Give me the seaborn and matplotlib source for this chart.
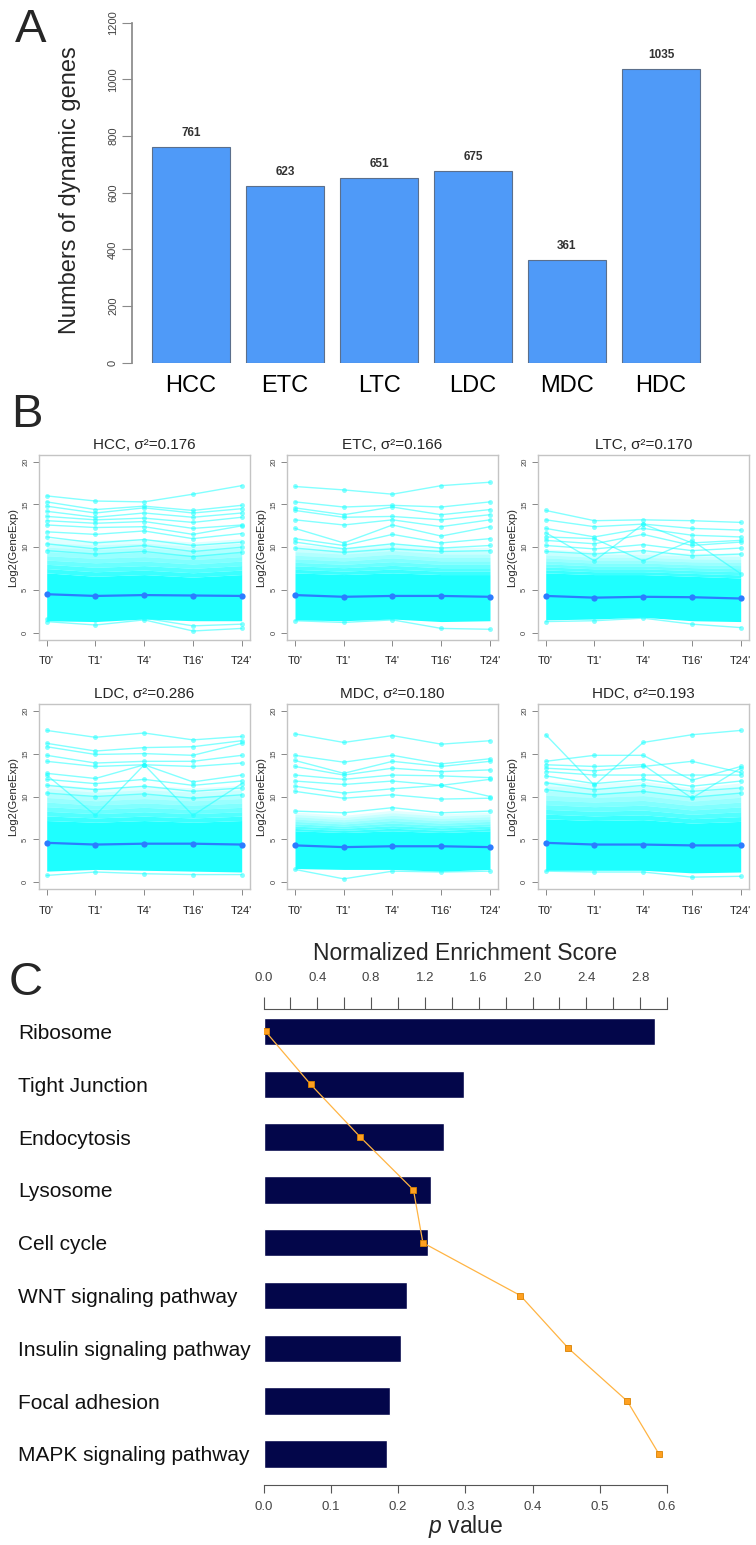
import matplotlib
matplotlib.use("Agg")
import numpy as np
import pandas as pd
import matplotlib.pyplot as plt
from matplotlib.ticker import FixedLocator
import seaborn as sns

sns.set_theme(style="white")
plt.rcParams['font.family'] = ['Liberation Sans', 'DejaVu Sans']
plt.rcParams['mathtext.fontset'] = 'custom'
plt.rcParams['mathtext.it'] = 'Liberation Sans:italic'
plt.rcParams['mathtext.rm'] = 'Liberation Sans'

# ---------------- Panel A: number of dynamic genes per condition ----------------
groups = ["HCC", "ETC", "LTC", "LDC", "MDC", "HDC"]
dynamic_genes = [761, 623, 651, 675, 361, 1035]

# ---------------- Panel B: expression trajectories ----------------
time_labels = ["T0'", "T1'", "T4'", "T16'", "T24'"]
sigma2 = [0.176, 0.166, 0.170, 0.286, 0.180, 0.193]

hcc_mean = [4.5, 4.3, 4.4, 4.35, 4.3]
hcc_low = [1.4, 1.3, 1.6, 1.4, 1.4]
hcc_core = [7.0, 6.6, 6.8, 6.5, 6.8]
hcc_fringe = [11.0, 10.8, 11.0, 10.6, 11.0]
hcc_genes = [
    [16.0, 15.4, 15.3, 16.2, 17.2], [15.3, 14.4, 14.8, 14.3, 14.9],
    [14.8, 14.0, 14.6, 14.0, 14.5], [14.2, 13.5, 14.0, 13.5, 14.0],
    [13.6, 13.2, 13.4, 12.9, 13.5], [13.1, 12.8, 13.0, 12.2, 12.6],
    [12.6, 12.3, 12.4, 11.5, 12.5], [11.8, 11.5, 11.9, 11.0, 11.6],
    [11.2, 10.5, 10.9, 10.2, 10.6], [10.4, 9.8, 10.2, 9.5, 10.0],
    [9.6, 9.2, 9.5, 8.9, 9.4], [1.3, 0.9, 1.5, 0.2, 0.5],
    [1.6, 1.5, 1.7, 0.8, 1.0],
]

etc_mean = [4.4, 4.2, 4.3, 4.3, 4.2]
etc_low = [1.5, 1.4, 1.6, 1.3, 1.4]
etc_core = [7.0, 6.8, 7.0, 6.8, 6.8]
etc_fringe = [10.3, 10.0, 10.5, 10.0, 10.0]
etc_genes = [
    [17.1, 16.7, 16.2, 17.2, 17.6], [15.3, 14.7, 14.9, 14.7, 15.3],
    [14.6, 13.8, 14.7, 13.8, 14.4], [14.3, 13.5, 13.6, 13.2, 13.8],
    [13.2, 12.6, 13.2, 12.4, 13.2], [12.2, 10.5, 12.6, 11.3, 12.4],
    [11.0, 10.2, 11.5, 10.5, 11.0], [10.6, 9.8, 10.4, 9.9, 10.2],
    [9.9, 9.4, 9.8, 9.5, 9.6], [1.4, 1.2, 1.5, 0.5, 0.4],
]

ltc_mean = [4.3, 4.1, 4.2, 4.15, 4.0]
ltc_low = [1.5, 1.6, 1.8, 1.4, 1.3]
ltc_core = [7.0, 6.8, 6.8, 6.6, 6.4]
ltc_fringe = [9.8, 9.5, 9.5, 9.3, 9.3]
ltc_genes = [
    [14.3, 13.1, 13.2, 13.1, 12.9], [13.2, 12.4, 12.7, 12.2, 12.0],
    [12.2, 11.2, 12.2, 11.4, 11.2], [11.7, 8.4, 12.7, 10.5, 10.8],
    [11.2, 11.0, 8.4, 10.8, 6.9], [10.8, 10.4, 11.5, 10.2, 10.6],
    [10.2, 9.8, 10.3, 9.6, 9.9], [9.5, 9.2, 9.6, 9.0, 9.2],
    [1.3, 1.4, 1.7, 1.0, 0.6],
]

ldc_mean = [4.6, 4.4, 4.5, 4.5, 4.4]
ldc_low = [1.3, 1.5, 1.4, 1.3, 1.2]
ldc_core = [7.2, 7.0, 7.2, 7.0, 7.2]
ldc_fringe = [11.5, 11.0, 11.3, 11.0, 11.3]
ldc_genes = [
    [17.7, 16.9, 17.4, 16.6, 17.0], [16.2, 15.3, 15.7, 15.8, 16.5],
    [15.8, 14.9, 15.0, 14.8, 16.2], [14.8, 13.9, 14.1, 14.1, 14.8],
    [14.1, 13.5, 13.7, 13.5, 13.9], [12.7, 12.1, 13.7, 11.7, 12.5],
    [12.5, 7.8, 13.7, 7.8, 11.5], [12.0, 11.5, 12.0, 11.3, 11.8],
    [11.3, 10.8, 11.2, 10.6, 11.0], [10.4, 10.0, 10.3, 9.8, 10.2],
    [0.8, 1.2, 1.0, 0.9, 0.9],
]

mdc_mean = [4.3, 4.1, 4.2, 4.2, 4.1]
mdc_low = [1.6, 1.5, 1.5, 1.3, 1.5]
mdc_core = [6.0, 5.8, 6.0, 5.8, 6.0]
mdc_fringe = [8.2, 7.8, 8.4, 8.0, 8.2]
mdc_genes = [
    [17.3, 16.3, 17.1, 16.1, 16.5], [14.8, 14.0, 14.8, 13.8, 14.4],
    [14.2, 12.7, 14.1, 13.5, 14.1], [13.5, 12.5, 13.3, 12.9, 13.1],
    [12.5, 12.0, 12.5, 12.4, 12.2], [11.8, 11.4, 11.8, 11.3, 12.0],
    [11.2, 10.4, 10.9, 11.3, 10.0], [10.6, 9.8, 10.2, 9.7, 9.8],
    [8.3, 8.1, 8.7, 8.1, 8.3], [1.5, 0.4, 1.3, 1.2, 1.3],
]

hdc_mean = [4.6, 4.4, 4.4, 4.3, 4.3]
hdc_low = [1.4, 1.4, 1.4, 1.1, 1.2]
hdc_core = [7.4, 7.2, 7.3, 6.9, 7.1]
hdc_fringe = [11.8, 11.5, 11.8, 11.0, 11.6]
hdc_genes = [
    [17.2, 11.3, 16.3, 17.2, 17.7], [14.1, 14.8, 14.8, 11.9, 13.5],
    [13.7, 13.5, 13.7, 9.8, 13.3], [13.3, 13.0, 13.5, 14.1, 12.8],
    [12.9, 12.5, 12.5, 12.5, 12.5], [12.4, 11.5, 12.0, 11.2, 11.8],
    [11.6, 10.8, 11.3, 10.6, 11.0], [10.8, 10.2, 10.6, 9.9, 10.4],
    [1.3, 1.2, 1.2, 0.6, 0.7],
]

# ---------------- Panel C: pathway enrichment ----------------
pathways = ["Ribosome", "Tight Junction", "Endocytosis", "Lysosome", "Cell cycle",
            "WNT signaling pathway", "Insulin signaling pathway",
            "Focal adhesion", "MAPK signaling pathway"]
nes_scores = [2.91, 1.49, 1.345, 1.245, 1.226, 1.068, 1.019, 0.94, 0.92]
p_values = [0.003, 0.070, 0.144, 0.223, 0.237, 0.382, 0.4535, 0.541, 0.588]

# ---------------------------------------------------------------------------
W, H = 756, 1545
fig = plt.figure(figsize=(W / 100, H / 100), dpi=100)


def px_axes(left, top, right, bottom):
    return fig.add_axes([left / W, 1 - bottom / H, (right - left) / W, (bottom - top) / H])


def px_text(x, y, s, **kw):
    fig.text(x / W, 1 - y / H, s, **kw)


# Panel A
BAR_BLUE = "#4f9af8"
axA = px_axes(132, 22.7, 725, 362.7)
sns.barplot(x=groups, y=dynamic_genes, color=BAR_BLUE, saturation=1, width=0.83,
            edgecolor="#5b6f8c", linewidth=0.8, ax=axA)
axA.set_xlim(-0.628, 5.681)
axA.set_ylim(0, 1200)
axA.bar_label(axA.containers[0], fmt="%d", padding=6, fontsize=8.5,
              fontweight="bold", color="#333333")
for side in ("top", "right", "bottom"):
    axA.spines[side].set_visible(False)
axA.spines["left"].set_color("#8a8a8a")
axA.spines["left"].set_bounds(0, 1200)
axA.set_yticks(range(0, 1201, 200))
axA.tick_params(axis="y", direction="out", length=7, width=0.8, color="#8a8a8a",
                labelsize=8, labelcolor="#444444", pad=3, left=True)
for lab in axA.get_yticklabels():
    lab.set_rotation(90)
    lab.set_va("center")
axA.tick_params(axis="x", length=0, labelsize=17, pad=9, labelcolor="black")
axA.set_xlabel("")
axA.set_ylabel("")
px_text(70, 190, "Numbers of dynamic genes", rotation=90, ha="center", va="center",
        fontsize=17)
px_text(31, 30, "A", ha="center", va="center", fontsize=34)

# Panel B
CYAN = "#1effff"
MEAN_BLUE = "#2b7cff"
panels = [
    (hcc_genes, hcc_low, hcc_core, hcc_fringe, hcc_mean),
    (etc_genes, etc_low, etc_core, etc_fringe, etc_mean),
    (ltc_genes, ltc_low, ltc_core, ltc_fringe, ltc_mean),
    (ldc_genes, ldc_low, ldc_core, ldc_fringe, ldc_mean),
    (mdc_genes, mdc_low, mdc_core, mdc_fringe, mdc_mean),
    (hdc_genes, hdc_low, hdc_core, hdc_fringe, hdc_mean),
]
t = np.arange(1, 6)
col_t0 = [46.7, 295.0, 545.7]
row_y = [(632.7, 461.7), (882.3, 710.7)]  # pixel rows of y=0 and y=20
fade_steps = 8
for k, (genes, low, core, fringe, mean) in enumerate(panels):
    r, c = divmod(k, 3)
    px_unit = 48.75
    left = col_t0[c] - 0.16 * px_unit
    right = col_t0[c] + 4.16 * px_unit
    y0, y20 = row_y[r]
    u = (y0 - y20) / 20
    top = y20 - 0.8 * u
    bottom = y0 + 0.8 * u
    ax = px_axes(left, top, right, bottom)

    # dense body of the gene cloud, then a soft fade towards its upper fringe
    ax.fill_between(t, low, core, color=CYAN, lw=0, zorder=1)
    core_a = np.array(core)
    fringe_a = np.array(fringe)
    for s in range(fade_steps):
        lo = core_a + (fringe_a - core_a) * s / fade_steps
        hi = core_a + (fringe_a - core_a) * (s + 1) / fade_steps
        ax.fill_between(t, lo, hi, color=CYAN, lw=0, zorder=1,
                        alpha=0.85 * (1 - (s + 0.5) / fade_steps) + 0.08)

    gdf = pd.DataFrame([(g, tt, v) for g, row in enumerate(genes)
                        for tt, v in zip(t, row)], columns=["gene", "t", "value"])
    sns.lineplot(data=gdf, x="t", y="value", units="gene", estimator=None,
                 color=CYAN, alpha=0.55, lw=1.0, marker="o", markersize=3.5,
                 markeredgewidth=0, ax=ax, zorder=2)
    sns.lineplot(x=t, y=mean, color=MEAN_BLUE, lw=1.6, marker="o", markersize=4.5,
                 markeredgewidth=0, ax=ax, zorder=3)

    ax.set_xlim(0.84, 5.16)
    ax.set_ylim(-0.8, 20.8)
    ax.set_xticks(t)
    ax.set_xticklabels(time_labels)
    ax.set_yticks([0, 5, 10, 15, 20])
    ax.tick_params(axis="x", direction="out", length=4, width=0.7, color="#888888",
                   labelsize=8, labelcolor="#222222", pad=8, bottom=True)
    ax.tick_params(axis="y", direction="out", length=4, width=0.7, color="#888888",
                   labelsize=5.5, labelcolor="#444444", pad=3, left=True)
    for lab in ax.get_yticklabels():
        lab.set_rotation(90)
        lab.set_va("center")
    for sp in ax.spines.values():
        sp.set_color("#c4c4c4")
        sp.set_linewidth(1.0)
    ax.set_xlabel("")
    ax.set_ylabel("")
    ax.set_title(f"{groups[k]}, σ²={sigma2[k]:.3f}", fontsize=11, pad=4)
    px_text(left - 26, (top + bottom) / 2, "Log2(GeneExp)", rotation=90,
            ha="center", va="center", fontsize=8)

px_text(27, 415, "B", ha="center", va="center", fontsize=34)

# Panel C
NAVY = "#03064a"
ORANGE = "#ffb443"
YLIM_C = (8.587, -0.426)
axC = px_axes(263.5, 1009, 667, 1485)
sns.barplot(x=nes_scores, y=pathways, orient="h", color=NAVY, saturation=1,
            width=0.52, ax=axC)
axP = axC.twiny()
sns.lineplot(x=p_values, y=np.arange(len(pathways)), sort=False, estimator=None,
             color=ORANGE, lw=0.9, marker="s", markersize=5,
             markerfacecolor="#ffa020", markeredgecolor="#d98200",
             markeredgewidth=0.6, ax=axP)

# NES axis on top
axC.set_xlim(0, 3.0)
axC.xaxis.set_ticks_position("top")
axC.xaxis.set_label_position("top")
axC.xaxis.set_major_locator(FixedLocator(np.round(np.arange(0, 2.81, 0.4), 1)))
axC.xaxis.set_minor_locator(FixedLocator(np.round(np.arange(0.2, 3.01, 0.4), 1)))
axC.set_xticklabels([f"{v:.1f}" for v in np.arange(0, 2.81, 0.4)])
axC.tick_params(axis="x", which="both", direction="out", length=9, width=0.8,
                color="#555555", top=True, bottom=False, labeltop=True,
                labelbottom=False)
axC.tick_params(axis="x", which="major", labelsize=9.5, labelcolor="#444444", pad=9)
axC.set_xlabel("Normalized Enrichment Score", fontsize=16.5, labelpad=9)
axC.set_yticks(range(len(pathways)))
axC.set_yticklabels(pathways)
axC.tick_params(axis="y", length=0, labelsize=15, pad=176.8, labelcolor="#111111",
                left=False, labelleft=True)
for lab in axC.get_yticklabels():
    lab.set_ha("left")
axC.set_ylabel("")
for side in ("left", "right", "bottom"):
    axC.spines[side].set_visible(False)
axC.spines["top"].set_color("#555555")
axC.spines["top"].set_linewidth(0.8)

# p-value axis on bottom
axP.set_xlim(0, 0.6)
axP.xaxis.set_ticks_position("bottom")
axP.xaxis.set_label_position("bottom")
axP.set_xticks(np.round(np.arange(0, 0.61, 0.1), 1))
axP.set_xticklabels([f"{v:.1f}" for v in np.arange(0, 0.61, 0.1)])
axP.tick_params(axis="x", direction="out", length=5.5, width=0.8, color="#555555",
                labelsize=9.5, labelcolor="#444444", pad=6, bottom=True, top=False,
                labelbottom=True, labeltop=False)
axP.set_xlabel(r"$p$ value", fontsize=16.5, labelpad=0)
axP.tick_params(axis="y", left=False, right=False, labelleft=False, labelright=False)
axP.set_ylabel("")
for side in ("left", "right", "top"):
    axP.spines[side].set_visible(False)
axP.spines["bottom"].set_visible(True)
axP.spines["bottom"].set_color("#555555")
axP.spines["bottom"].set_linewidth(0.8)
axC.set_ylim(*YLIM_C)

px_text(26, 983, "C", ha="center", va="center", fontsize=34)

fig.savefig("out.png", dpi=100)
